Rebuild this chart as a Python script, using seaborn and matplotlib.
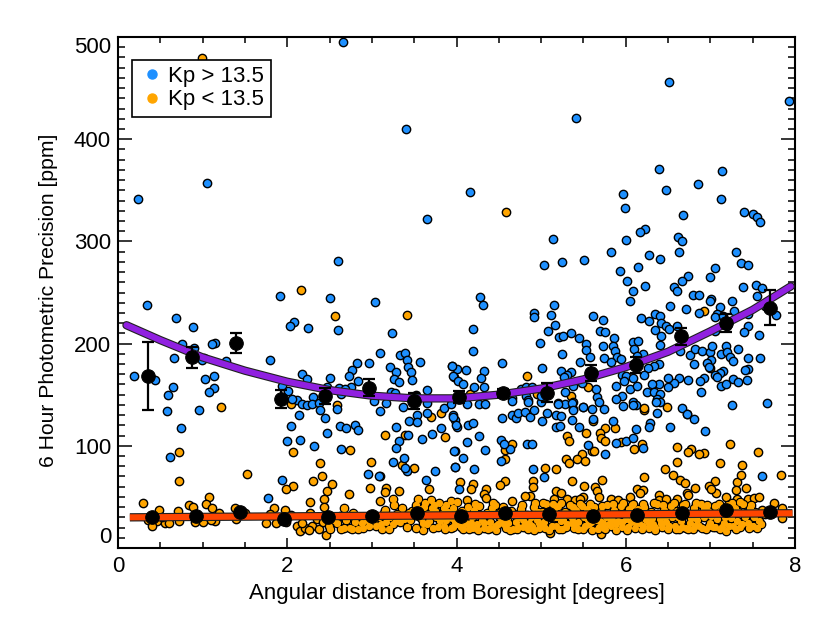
"""Photometric precision vs. angular distance from boresight."""

import matplotlib

matplotlib.use("Agg")
import matplotlib.patheffects as pe
import matplotlib.pyplot as plt
import matplotlib.ticker as mticker
import pandas as pd
import seaborn as sns
from matplotlib.lines import Line2D

# (distance, precision)
blue_upper = [
    (2.66, 495), (3.40, 410), (1.056, 357), (0.236, 341), (3.65, 322), (2.60, 281),
    (6.51, 456), (7.93, 437), (5.41, 421), (6.39, 371), (7.14, 369), (6.85, 356),
    (4.16, 348), (5.97, 346), (6.47, 350), (7.12, 341), (5.99, 333), (6.68, 326),
    (7.40, 329), (7.50, 327), (7.55, 324), (7.59, 319), (6.23, 312), (6.17, 309),
    (5.14, 302), (6.00, 301), (6.62, 304), (6.67, 300), (5.82, 290), (6.63, 290),
    (7.30, 290), (6.27, 287), (6.41, 283), (5.51, 282), (5.25, 280), (5.03, 277),
    (7.36, 279), (7.44, 277), (6.14, 275), (5.93, 271), (7.06, 274), (6.74, 266),
    (6.99, 265), (6.67, 261), (6.01, 261), (6.23, 256), (6.57, 255), (6.08, 251),
    (7.39, 255), (7.54, 257), (7.61, 254), (6.60, 251), (6.05, 242), (6.79, 248),
    (6.86, 248), (7.01, 244), (6.52, 237), (6.71, 234), (6.86, 230), (7.11, 236),
    (7.25, 242), (7.00, 242), (7.55, 247), (7.28, 232), (7.08, 229), (7.06, 226),
    (7.15, 227), (7.45, 229), (7.20, 217), (7.45, 217), (7.40, 211), (7.57, 208),
    (7.78, 228), (7.65, 237), (7.06, 212),
]
blue_left = [
    (0.347, 238), (1.92, 247), (2.51, 245), (3.04, 241), (0.69, 225), (0.89, 216),
    (2.08, 221), (2.03, 217), (2.25, 215), (2.60, 213), (3.24, 210), (0.76, 200),
    (0.90, 196), (1.15, 201), (1.11, 200), (3.10, 191), (3.33, 189), (3.39, 191),
    (0.66, 186), (1.02, 186), (1.28, 183), (0.99, 184), (1.80, 184), (2.82, 181),
    (2.97, 181), (3.41, 184), (3.57, 182), (3.95, 178), (3.22, 177), (2.77, 174),
    (3.29, 172), (3.43, 177), (3.46, 172), (0.19, 168), (0.44, 164), (1.03, 165),
    (1.13, 168), (2.17, 170), (2.23, 165), (2.51, 166), (2.73, 168), (3.97, 167),
    (3.26, 165), (3.32, 162), (3.48, 164), (2.84, 163), (0.65, 158), (1.13, 157),
    (1.08, 153), (0.59, 150), (1.94, 159), (2.01, 154), (2.47, 158), (2.61, 157),
    (2.75, 158), (2.68, 156), (3.65, 155), (3.23, 153), (3.27, 152), (3.52, 150),
    (2.30, 148), (2.11, 145), (2.06, 146), (2.17, 141), (2.23, 140), (2.29, 141),
    (2.38, 142), (3.03, 144), (3.17, 142), (3.37, 138), (3.65, 142), (3.85, 137),
    (3.93, 141), (2.63, 151), (2.43, 150), (0.575, 134), (0.96, 135), (0.75, 117),
    (0.61, 89), (2.05, 119), (2.00, 105), (2.15, 106), (2.14, 130), (2.39, 135),
    (2.45, 127), (2.47, 113), (2.32, 100), (2.59, 136), (2.62, 119), (2.70, 117),
    (2.80, 120), (2.84, 115), (2.63, 97), (3.10, 134), (3.29, 118), (3.43, 111),
    (3.32, 105), (3.28, 98), (3.59, 107), (3.71, 112), (3.82, 117), (3.65, 132),
    (3.96, 130), (3.98, 125), (4.00, 118), (3.53, 130), (3.44, 124), (3.53, 123),
    (3.98, 95), (3.38, 88), (3.25, 84), (3.41, 75), (3.39, 78), (2.96, 72),
    (3.08, 70), (3.75, 75), (3.64, 67), (3.98, 79), (1.94, 67), (1.77, 49),
]
blue_right = [
    (4.28, 246), (4.31, 238), (5.15, 238), (4.91, 230), (4.91, 226), (5.12, 228),
    (5.61, 227), (5.73, 223), (5.16, 218), (4.20, 214), (5.08, 212), (4.99, 201),
    (4.19, 193), (5.21, 206), (5.26, 207), (5.35, 210), (5.45, 205), (5.69, 212),
    (5.75, 211), (5.53, 200), (5.53, 194), (5.73, 198), (5.86, 205), (5.85, 198),
    (5.87, 193), (5.25, 190), (5.58, 187), (5.74, 186), (5.46, 182), (4.54, 181),
    (4.11, 174), (4.01, 175), (3.95, 178), (4.33, 173), (5.01, 176), (5.24, 173),
    (5.35, 172), (5.31, 169), (5.27, 167), (3.96, 168), (4.02, 163), (4.29, 166),
    (4.08, 160), (4.33, 158), (4.21, 158), (4.76, 156), (4.82, 158), (4.89, 158),
    (5.07, 157), (5.28, 153), (5.38, 159), (5.48, 161), (5.90, 187), (5.94, 185),
    (5.82, 182), (5.96, 169), (6.00, 168), (6.08, 166), (5.98, 163), (5.88, 159),
    (6.05, 156), (6.13, 159), (5.96, 149), (5.89, 146), (6.08, 202), (6.14, 203),
    (6.10, 195), (6.20, 190), (6.13, 188), (6.39, 180), (6.33, 178), (6.26, 176),
    (6.22, 169), (6.18, 225), (6.28, 222), (6.34, 229), (6.40, 227), (6.42, 220),
    (6.47, 217), (6.51, 214), (6.35, 213), (6.42, 207), (6.40, 199), (6.60, 217),
    (6.64, 193), (6.76, 189), (6.81, 180), (6.82, 195), (6.90, 193), (6.99, 192),
    (7.02, 198), (7.12, 190), (7.18, 198), (7.20, 192), (7.33, 195), (7.23, 187),
    (7.27, 183), (7.45, 186), (7.59, 186), (7.01, 184), (6.96, 181), (6.98, 177),
    (7.44, 175), (7.41, 174), (7.15, 173), (7.11, 171), (7.06, 169), (7.08, 167),
    (7.43, 164), (7.27, 165), (7.33, 162), (6.93, 166), (6.88, 163), (6.74, 164),
    (6.63, 166), (6.57, 161), (6.50, 166), (6.50, 158), (6.39, 160), (6.31, 160),
    (6.25, 153), (6.33, 153), (6.41, 151), (6.37, 146), (6.41, 143), (6.89, 153),
    (7.12, 159), (7.18, 160), (4.82, 149), (4.85, 145), (4.65, 147), (5.00, 143),
    (5.20, 142), (5.28, 141), (5.38, 143), (5.38, 136), (5.66, 148), (5.68, 143),
    (5.50, 138), (5.65, 156), (6.08, 143), (6.12, 140), (6.67, 137), (5.00, 149),
]
blue_lower = [
    (7.26, 140), (7.67, 142), (6.72, 131), (6.81, 126), (6.37, 132), (6.36, 143),
    (6.29, 122), (6.27, 118), (6.52, 118), (6.94, 114), (6.12, 116), (5.85, 124),
    (5.61, 126), (5.45, 118), (5.36, 125), (5.18, 118), (5.22, 119), (5.55, 101),
    (5.76, 92), (5.89, 103), (6.00, 105), (6.08, 108), (6.20, 98), (7.61, 70),
    (5.03, 69), (4.90, 77), (4.21, 77), (3.98, 79), (4.08, 88), (3.97, 95),
    (4.34, 96), (4.63, 97), (4.53, 85), (4.53, 106), (4.56, 102), (4.83, 102),
    (4.89, 102), (4.27, 110), (4.12, 104), (4.13, 120), (4.20, 122), (3.99, 120),
    (3.96, 128), (4.54, 127), (4.65, 130), (4.70, 127), (4.73, 132), (4.81, 133),
    (4.87, 128), (4.92, 135), (5.01, 124), (5.07, 132), (5.17, 130), (5.24, 129),
    (5.20, 141), (5.37, 142), (5.38, 135), (5.50, 138), (5.60, 136), (5.74, 136),
    (5.97, 139), (6.09, 140), (4.12, 141), (4.26, 141), (4.34, 141), (4.65, 144),
    (4.85, 143), (4.03, 58),
]

orange_scattered = [
    (0.99, 479), (4.58, 329), (2.16, 252), (2.57, 227), (3.42, 228), (2.05, 141),
    (2.59, 140), (1.22, 138), (0.72, 94), (0.72, 66), (1.53, 72), (2.74, 96),
    (2.07, 94), (3.15, 111), (3.39, 111), (3.86, 109), (3.70, 128), (3.82, 132),
    (3.36, 81), (3.50, 78), (2.99, 84), (3.10, 70), (3.67, 58), (2.39, 83),
    (2.41, 70), (2.30, 66), (2.53, 63), (2.47, 56), (2.43, 48), (2.27, 45),
    (2.73, 53), (2.98, 59), (3.17, 59), (3.16, 55), (3.32, 56), (3.10, 46),
    (2.07, 61), (1.99, 58), (6.49, 138), (6.21, 135), (6.72, 131), (5.61, 124),
    (5.76, 117), (5.87, 117), (5.69, 113), (5.53, 113), (5.71, 108), (5.75, 105),
    (5.31, 110), (5.33, 105), (5.60, 95), (5.63, 95), (5.48, 92), (5.42, 87),
    (5.52, 85), (5.29, 87), (5.33, 83), (5.94, 104), (6.10, 97), (6.19, 102),
    (6.60, 99), (6.77, 97), (6.74, 94), (7.23, 102), (6.92, 93), (6.87, 92),
    (7.56, 94), (6.61, 84), (7.11, 83), (7.37, 81), (6.46, 77), (6.56, 71),
    (6.64, 67), (6.70, 64), (6.21, 69), (7.05, 66), (6.98, 61), (7.07, 54),
    (7.01, 58), (6.82, 59), (7.32, 65), (7.36, 71), (7.30, 57), (7.42, 59),
    (7.83, 71), (7.19, 50), (6.72, 54), (6.74, 52), (6.13, 58), (6.20, 57),
    (6.17, 54), (5.72, 67), (5.51, 61), (5.36, 66), (5.64, 60), (5.66, 56),
    (5.68, 50), (5.17, 77), (5.04, 78), (4.90, 66), (4.90, 60), (4.57, 66),
    (4.51, 62), (4.57, 96), (4.57, 87), (4.66, 102), (4.04, 65), (4.20, 63),
    (4.17, 58), (4.35, 58), (4.32, 53), (4.35, 49), (4.12, 47), (4.87, 51),
    (4.81, 51), (4.66, 46), (5.10, 15), (5.71, 14), (5.17, 56), (5.23, 54),
    (5.15, 48), (5.31, 48), (5.40, 47), (5.50, 50), (5.46, 48), (5.82, 48),
    (5.91, 47), (6.05, 50), (6.39, 52), (6.39, 47), (6.47, 48), (6.60, 48),
    (7.31, 48), (7.45, 48), (7.51, 49), (7.57, 50), (7.75, 44), (7.85, 39),
    (7.85, 29), (7.61, 37), (4.83, 168), (5.55, 158), (5.35, 149), (4.95, 151),
    (4.16, 151), (6.21, 137), (7.00, 176), (6.93, 232),
]
orange_left_band = [
    (0.29, 44), (1.08, 50), (1.04, 43), (1.11, 39), (0.84, 42), (0.89, 40),
    (0.48, 37), (0.71, 36), (0.36, 27), (0.46, 26), (0.56, 24), (0.60, 24),
    (0.72, 26), (0.91, 25), (1.01, 25), (1.15, 26), (1.19, 34), (1.38, 39),
    (1.39, 28), (1.50, 34), (1.84, 39), (1.97, 37), (1.75, 24), (1.87, 24),
    (1.99, 25), (2.11, 22), (2.15, 17), (2.21, 20), (2.29, 22), (2.38, 19),
    (2.46, 13), (2.51, 19), (2.59, 24), (2.67, 20), (2.74, 20), (2.84, 19),
    (2.27, 34), (2.43, 40), (2.67, 39), (2.78, 34), (2.94, 27), (3.16, 37),
    (3.25, 48), (3.26, 42), (3.36, 39), (3.55, 48), (3.63, 44), (3.70, 47),
    (3.79, 44), (3.93, 46), (4.00, 45), (3.61, 18), (3.65, 23), (3.85, 22),
    (3.93, 20), (4.00, 23), (3.17, 25), (3.25, 23), (3.33, 25), (3.45, 27),
    (3.11, 23), (3.02, 27), (3.71, 39), (3.75, 36), (3.85, 39), (3.96, 39),
    (2.35, 28), (2.55, 27), (2.62, 31), (2.70, 27), (2.80, 25), (2.88, 24),
    (3.05, 22), (3.14, 34), (3.22, 30), (3.30, 33), (3.42, 21), (3.48, 36),
    (3.58, 29), (3.62, 40), (3.68, 26), (3.72, 20), (3.76, 30), (3.80, 26),
    (3.83, 33), (3.88, 27), (3.90, 35), (3.95, 29), (3.98, 25), (3.66, 33),
    (3.56, 38), (2.18, 24), (2.26, 18), (2.42, 25), (2.49, 22), (2.63, 19),
    (2.77, 19), (2.90, 20), (2.97, 22), (3.08, 30), (3.12, 19), (3.20, 19),
    (3.28, 26), (3.38, 28), (3.52, 20), (3.60, 24), (3.70, 33), (3.78, 21),
    (3.87, 19), (3.96, 21), (3.74, 42), (3.88, 42), (3.52, 42), (3.44, 34),
    (1.10, 27), (0.40, 22), (0.52, 30), (1.42, 35), (1.80, 33), (2.04, 32),
]
orange_right_band = [
    (4.02, 28), (4.05, 21), (4.07, 36), (4.10, 25), (4.13, 40), (4.15, 19), (4.18, 30), (4.21, 37),
    (4.24, 23), (4.27, 41), (4.30, 27), (4.33, 20), (4.36, 34), (4.39, 25), (4.42, 39), (4.45, 22),
    (4.47, 18), (4.50, 31), (4.53, 26), (4.55, 40), (4.58, 20), (4.61, 24), (4.64, 36), (4.67, 19),
    (4.70, 25), (4.73, 21), (4.76, 38), (4.79, 27), (4.83, 32), (4.86, 24), (4.89, 22), (4.92, 40),
    (4.95, 27), (4.98, 20), (5.01, 35), (5.03, 25), (5.06, 43), (5.09, 18), (5.12, 30), (5.15, 38),
    (5.17, 22), (5.20, 41), (5.23, 26), (5.25, 19), (5.28, 35), (5.31, 23), (5.34, 42), (5.36, 29),
    (5.39, 20), (5.41, 37), (5.44, 25), (5.46, 43), (5.49, 19), (5.51, 30), (5.54, 38), (5.57, 23),
    (5.60, 18), (5.62, 40), (5.65, 27), (5.68, 21), (5.71, 35), (5.73, 24), (5.76, 19), (5.78, 42),
    (5.81, 29), (5.83, 22), (5.86, 37), (5.89, 18), (5.91, 26), (5.94, 41), (5.96, 21), (5.99, 33),
    (6.01, 18), (6.04, 38), (6.06, 25), (6.09, 43), (6.11, 20), (6.14, 31), (6.16, 24), (6.19, 19),
    (6.22, 40), (6.24, 27), (6.27, 20), (6.30, 35), (6.32, 23), (6.35, 18), (6.37, 43), (6.40, 28),
    (6.43, 21), (6.45, 37), (6.48, 25), (6.50, 19), (6.53, 41), (6.55, 30), (6.58, 22), (6.60, 36),
    (6.63, 19), (6.65, 26), (6.68, 42), (6.71, 20), (6.73, 33), (6.76, 24), (6.79, 19), (6.81, 39),
    (6.84, 27), (6.87, 22), (6.89, 43), (6.92, 30), (6.95, 19), (6.97, 36), (7.00, 24), (7.03, 21),
    (7.05, 41), (7.08, 28), (7.11, 19), (7.13, 37), (7.16, 24), (7.19, 17), (7.21, 42), (7.24, 29),
    (7.27, 22), (7.29, 39), (7.32, 26), (7.35, 21), (7.38, 43), (7.41, 30), (7.44, 24), (7.47, 39),
    (7.50, 22), (7.53, 35), (7.57, 26), (7.60, 23), (7.65, 33),
    (4.04, 33), (4.12, 23), (4.20, 20), (4.28, 32), (4.37, 19), (4.46, 42), (4.52, 35), (4.60, 29),
    (4.68, 33), (4.74, 30), (4.81, 23), (4.88, 30), (4.96, 35), (5.02, 22), (5.10, 36), (5.18, 30),
    (5.26, 27), (5.33, 32), (5.40, 24), (5.47, 33), (5.55, 27), (5.63, 33), (5.70, 26), (5.77, 30),
    (5.84, 27), (5.92, 33), (6.00, 28), (6.08, 30), (6.15, 38), (6.23, 33), (6.31, 29), (6.38, 33),
    (6.46, 30), (6.54, 34), (6.62, 30), (6.69, 33), (6.77, 29), (6.85, 33), (6.93, 38), (7.01, 31),
    (7.09, 34), (7.17, 30), (7.25, 33), (7.33, 35), (7.42, 34), (7.52, 30),
    (4.08, 19), (4.17, 24), (4.25, 18), (4.32, 24), (4.40, 20), (4.49, 23), (4.56, 23), (4.63, 18),
    (4.71, 19), (4.78, 21), (4.84, 19), (4.91, 18), (4.97, 24), (5.05, 20), (5.13, 22), (5.21, 19),
    (5.29, 21), (5.37, 24), (5.43, 19), (5.52, 22), (5.59, 25), (5.67, 19), (5.74, 20), (5.80, 23),
    (5.88, 23), (5.95, 25), (6.03, 21), (6.12, 24), (6.20, 22), (6.28, 24), (6.34, 21), (6.42, 24),
    (6.51, 22), (6.59, 19), (6.67, 21), (6.74, 19), (6.82, 22), (6.90, 20), (6.98, 22), (7.06, 21),
    (7.14, 21), (7.22, 22), (7.30, 19), (7.37, 23), (7.46, 20), (7.55, 20),
    (4.22, 43), (4.43, 44), (4.77, 42), (4.93, 44), (5.02, 44), (5.14, 43), (5.24, 44), (5.38, 40),
    (5.48, 41), (5.58, 43), (5.72, 41), (5.85, 43), (5.97, 44), (6.07, 42), (6.20, 43), (6.33, 44),
    (6.44, 42), (6.57, 44), (6.70, 43), (6.83, 44), (6.96, 42), (7.10, 43), (7.26, 44), (7.35, 45),
    (7.48, 42),
]

faint_bin_x = [0.40, 0.92, 1.44, 1.96, 2.48, 3.00, 3.53, 4.05, 4.57, 5.09, 5.61, 6.13, 6.66, 7.18, 7.70]
faint_bin_y = [30, 31, 35.6, 28.4, 30, 31.7, 34.3, 31.6, 34.4, 33, 31.6, 32, 34, 36.8, 34.8]

bright_bin_x = [0.36, 0.88, 1.40, 1.93, 2.45, 2.97, 3.50, 4.03, 4.55, 5.07, 5.59, 6.12, 6.65, 7.18, 7.70]
bright_bin_y = [168.5, 186.5, 200.8, 146, 149, 157, 144, 148, 152, 152, 171, 179, 207, 220, 235]
bright_bin_err = [33, 10, 10, 9, 8, 8, 8, 6, 4, 9, 8, 8, 8, 9, 17]

bright_fit_x = [0.10, 0.5, 1.0, 1.5, 2.0, 2.5, 3.0, 3.5, 4.0, 4.5, 5.0, 5.5, 6.0, 6.5, 7.0, 7.5, 7.95]
bright_fit_y = [218, 203.4, 186.5, 173.5, 162.7, 154.5, 149, 146.4, 146.4, 150, 156, 165, 177, 192, 212, 233, 256]
faint_fit_x = [0.14, 7.97]
faint_fit_y = [30, 34]

BLUE = "#1e90ff"
ORANGE = "#ffa500"


def main():
    sns.set_theme(style="ticks")
    plt.rcParams["font.family"] = ["Liberation Sans", "DejaVu Sans"]
    plt.rcParams["text.color"] = "black"
    plt.rcParams["axes.labelcolor"] = "black"

    faint = pd.DataFrame(orange_scattered + orange_left_band + orange_right_band, columns=["dist", "prec"])
    bright = pd.DataFrame(blue_upper + blue_left + blue_right + blue_lower, columns=["dist", "prec"])
    # in the crowded band the dots merge into one outlined blob
    band = pd.DataFrame(orange_left_band + orange_right_band, columns=["dist", "prec"])
    band = band[band["dist"] > 2.5]

    fig = plt.figure(figsize=(8.3, 6.23), dpi=100)
    ax = fig.add_axes([118 / 830, 1 - 548 / 623, 677 / 830, 511 / 623])

    dots = dict(s=36, edgecolor="black", linewidth=1.0, ax=ax)
    sns.scatterplot(data=faint, x="dist", y="prec", color=ORANGE, zorder=2, **dots)
    sns.scatterplot(data=bright, x="dist", y="prec", color=BLUE, zorder=2.1, **dots)
    sns.scatterplot(data=band, x="dist", y="prec", color=ORANGE, s=26, linewidth=0, ax=ax, zorder=2.2)

    outline = [pe.withStroke(linewidth=6.0, foreground="#202020")]
    sns.lineplot(x=bright_fit_x, y=bright_fit_y, color="#9020e0", linewidth=4.4, ax=ax,
                 zorder=3, path_effects=outline, estimator=None, sort=False)
    sns.lineplot(x=faint_fit_x, y=faint_fit_y, color="#ff4500", linewidth=4.4, ax=ax,
                 zorder=3, path_effects=outline, estimator=None, sort=False, solid_capstyle="butt")

    ax.errorbar(bright_bin_x, bright_bin_y, yerr=bright_bin_err, fmt="none", ecolor="black",
                elinewidth=1.6, capsize=4.5, capthick=1.6, zorder=4)
    sns.scatterplot(x=bright_bin_x, y=bright_bin_y, color="black", s=95, edgecolor="black", ax=ax, zorder=5)
    sns.scatterplot(x=faint_bin_x, y=faint_bin_y, color="black", s=95, edgecolor="black", ax=ax, zorder=5)

    ax.set_xlim(0, 8)
    ax.set_ylim(0, 500)
    ax.set_xlabel("Angular distance from Boresight [degrees]", fontsize=16, labelpad=4)
    ax.set_ylabel("6 Hour Photometric Precision [ppm]", fontsize=15.2)
    ax.yaxis.set_label_coords(-0.088, 0.485)

    ax.xaxis.set_major_locator(mticker.MultipleLocator(2))
    ax.xaxis.set_minor_locator(mticker.MultipleLocator(0.5))
    ax.yaxis.set_major_locator(mticker.MultipleLocator(100))
    ax.yaxis.set_minor_locator(mticker.MultipleLocator(10))
    ax.tick_params(axis="x", which="major", direction="in", top=True, bottom=True,
                   length=7.5, width=1.1, labelsize=16, pad=6, color="black", labelcolor="black")
    ax.tick_params(axis="x", which="minor", direction="in", top=True, bottom=True, length=4, width=1.1, color="black")
    ax.tick_params(axis="y", which="major", direction="in", left=True, right=True,
                   length=10, width=1.1, labelsize=16, pad=5, color="black", labelcolor="black")
    ax.tick_params(axis="y", which="minor", direction="in", left=True, right=True, length=5, width=1.1, color="black")
    for side in ax.spines.values():
        side.set_visible(True)
        side.set_linewidth(1.5)
        side.set_color("black")

    # top and bottom y labels stay inside the frame, like the original
    fig.canvas.draw()
    for tick in ax.yaxis.get_major_ticks():
        if tick.get_loc() == 0:
            tick.label1.set_verticalalignment("bottom")
        elif tick.get_loc() == 500:
            tick.label1.set_verticalalignment("top")

    handles = [
        Line2D([], [], marker="o", linestyle="none", color=BLUE, markersize=6.5, label="Kp > 13.5"),
        Line2D([], [], marker="o", linestyle="none", color=ORANGE, markersize=6.5, label="Kp < 13.5"),
    ]
    leg = ax.legend(handles=handles, loc="upper left", bbox_to_anchor=(13.5 / 677, 1 - 22.5 / 511),
                    borderaxespad=0, fontsize=16, frameon=True, fancybox=False, framealpha=1,
                    edgecolor="black", handlelength=1.25, handletextpad=0.1, labelspacing=0.1, borderpad=0.3)
    leg.get_frame().set_linewidth(1.2)
    leg.set_zorder(6)

    plt.savefig("out.png", dpi=100)
    plt.close()


main()
